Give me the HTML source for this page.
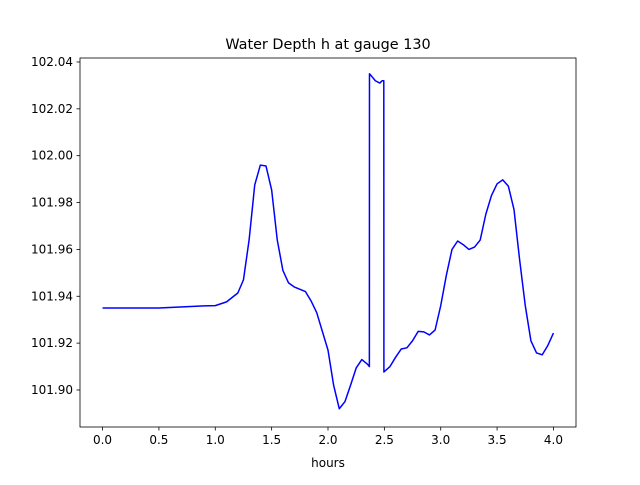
<!DOCTYPE html>
<html><head><meta charset="utf-8"><style>
body{margin:0;background:#fff;font-family:"Liberation Sans","DejaVu Sans",sans-serif;}
svg text{font-family:"DejaVu Sans","Liberation Sans",sans-serif;}
</style></head><body>
<svg id="chart" width="640" height="480" xmlns="http://www.w3.org/2000/svg">
<rect width="640" height="480" fill="#fff"/>
<text x="328" y="49" font-size="14.4" text-anchor="middle">Water Depth h at gauge 130</text>
<g id="plot"></g>
<rect x="80" y="58" width="496" height="369" fill="none" stroke="#000" stroke-width="0.8"/>
<text x="328" y="467" font-size="12" text-anchor="middle">hours</text>
</svg>
<script>
const hours=[0,0.5,0.9,1.0,1.1,1.2,1.25,1.3,1.35,1.4,1.45,1.5,1.55,1.6,1.65,1.7,1.8,1.85,1.9,2.0,2.05,2.1,2.15,2.2,2.25,2.3,2.35,2.367,2.368,2.42,2.46,2.48,2.495,2.496,2.55,2.6,2.65,2.7,2.75,2.8,2.85,2.9,2.95,3.0,3.05,3.1,3.15,3.2,3.25,3.3,3.35,3.4,3.45,3.5,3.55,3.6,3.65,3.7,3.75,3.8,3.85,3.9,3.95,4.0];
const depth=[101.935,101.935,101.9359,101.936,101.9376,101.9414,101.947,101.964,101.9875,101.996,101.9956,101.9854,101.964,101.951,101.9457,101.944,101.942,101.938,101.933,101.917,101.902,101.892,101.895,101.902,101.9094,101.913,101.911,101.910,102.035,102.032,102.031,102.032,102.032,101.9077,101.910,101.914,101.9175,101.918,101.921,101.925,101.9248,101.9235,101.9256,101.936,101.949,101.960,101.9636,101.962,101.960,101.961,101.964,101.975,101.983,101.988,101.9897,101.987,101.977,101.9555,101.936,101.921,101.9158,101.915,101.919,101.9243];
const xTicks=[0,0.5,1.0,1.5,2.0,2.5,3.0,3.5,4.0];
const yTicks=[101.90,101.92,101.94,101.96,101.98,102.00,102.02,102.04];
const L=80,R=576,T=58,B=427;
const xMin=-0.2,xMax=4.2,yMin=101.8842,yMax=102.0417;
const sx=v=>L+(v-xMin)/(xMax-xMin)*(R-L);
const sy=v=>B-(v-yMin)/(yMax-yMin)*(B-T);
const NS="http://www.w3.org/2000/svg";
const g=document.getElementById('plot');
function mk(tag,attrs){const e=document.createElementNS(NS,tag);for(const k in attrs)e.setAttribute(k,attrs[k]);g.appendChild(e);return e;}
xTicks.forEach(t=>{
  const x=sx(t);
  const l=mk('line',{x1:x,x2:x,y1:B,y2:B+3.5,stroke:'#000','stroke-width':0.8});
  
  
  const tx=mk('text',{x:x,y:B+17,'font-size':12,'text-anchor':'middle'});
  
  
  tx.textContent=t.toFixed(1);
});
yTicks.forEach(t=>{
  const y=sy(t);
  const l=mk('line',{x1:L-3.5,x2:L,y1:y,y2:y,stroke:'#000','stroke-width':0.8});
  
  
  const tx=mk('text',{x:L-7,y:y+4,'font-size':12,'text-anchor':'end'});
  
  
  tx.textContent=t.toFixed(2);
});
const pts=hours.map((h,i)=>sx(h).toFixed(2)+','+sy(depth[i]).toFixed(2)).join(' ');
const line=mk('polyline',{points:pts,fill:'none',stroke:'#0000ff','stroke-width':1.5,'stroke-linejoin':'round'});


</script>
</body></html>
